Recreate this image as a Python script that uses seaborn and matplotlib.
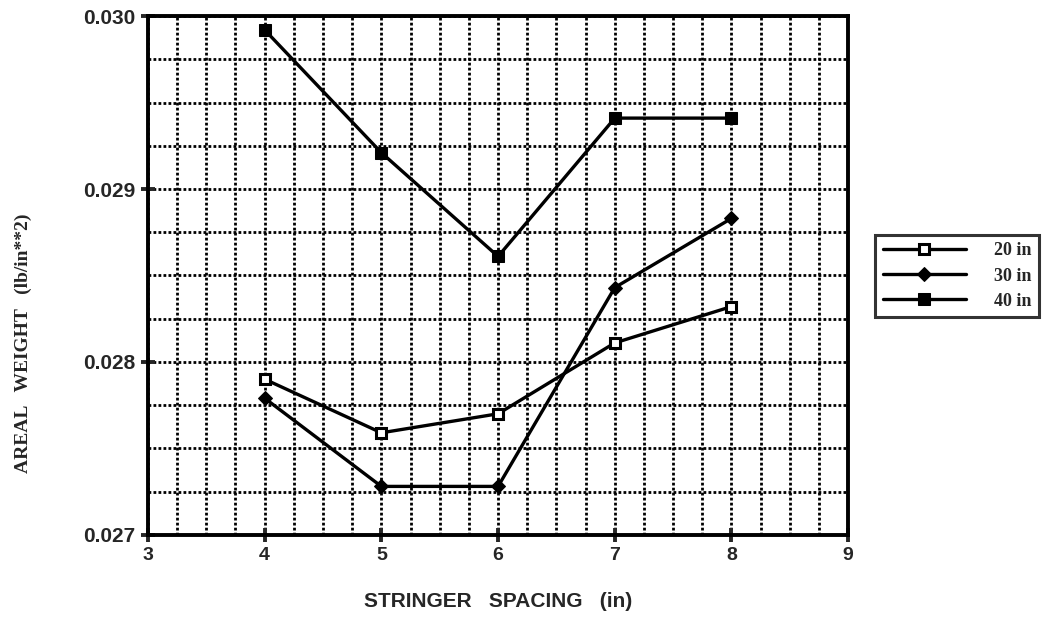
import numpy as np
import pandas as pd
import matplotlib
matplotlib.use('Agg')
import matplotlib.pyplot as plt
import seaborn as sns
from matplotlib.ticker import MultipleLocator

spacing = [4, 5, 6, 7, 8]
w_20in = [0.02790, 0.02759, 0.02770, 0.02811, 0.02832]
w_30in = [0.02779, 0.02728, 0.02728, 0.02843, 0.02883]
w_40in = [0.02992, 0.02921, 0.02861, 0.02941, 0.02941]
series = ['20 in', '30 in', '40 in']

df = pd.DataFrame({
    'spacing': spacing * 3,
    'weight': w_20in + w_30in + w_40in,
    'panel': np.repeat(series, len(spacing)),
})

sns.set_style('white')
plt.rcParams['font.family'] = ['Liberation Sans', 'DejaVu Sans']

fig = plt.figure(figsize=(10.42, 6.19), dpi=100)
ax = fig.add_axes([0.142, 0.136, 0.672, 0.838])

sns.lineplot(data=df, x='spacing', y='weight', hue='panel', style='panel',
             palette=['black'] * 3, markers={'20 in': 's', '30 in': 'D', '40 in': 's'},
             dashes=False, linewidth=2.4, markersize=8, ax=ax, legend=False)

for ln in ax.lines[:3]:
    ln.set_markeredgecolor('black')
# open marker for the 20 in series
ax.lines[0].set_markerfacecolor('white')
ax.lines[0].set_markeredgewidth(2.2)
ax.lines[0].set_markersize(7)
ax.lines[1].set_markersize(7)

ax.set_xlim(3, 9)
ax.set_ylim(0.027, 0.030)
ax.xaxis.set_major_locator(MultipleLocator(1))
ax.xaxis.set_minor_locator(MultipleLocator(0.25))
ax.yaxis.set_major_locator(MultipleLocator(0.001))
ax.yaxis.set_minor_locator(MultipleLocator(0.00025))
ax.yaxis.set_major_formatter(plt.FormatStrFormatter('%.3f'))

ax.grid(True, which='both', color='black', linestyle=(0, (1, 0.8)), linewidth=2.0)
ax.set_axisbelow(True)
for sp in ax.spines.values():
    sp.set_linewidth(2.8)
    sp.set_color('black')

ax.tick_params(axis='both', which='major', direction='inout', length=10, width=2.8,
               labelsize=14, pad=4, bottom=True, left=True)
ax.tick_params(axis='y', which='major', labelsize=15)
ax.tick_params(axis='both', which='minor', length=0)
for lab in ax.get_xticklabels() + ax.get_yticklabels():
    lab.set_fontweight('bold')

ax.set_xlabel('STRINGER   SPACING   (in)', fontsize=15, fontweight='bold')
ax.xaxis.set_label_coords(0.5, -0.11)
ax.set_ylabel('AREAL   WEIGHT   (lb/in**2)', fontsize=14, fontweight='bold',
              family=['Liberation Serif', 'DejaVu Serif'])
ax.yaxis.set_label_coords(-0.165, 0.37)

handles = ax.lines[:3]
leg = fig.legend(handles, series, loc='upper left', bbox_to_anchor=(0.84, 0.62),
                 frameon=True, fancybox=False, edgecolor='black', handlelength=4.6,
                 handletextpad=1.6, borderpad=0.4, labelspacing=0.45, borderaxespad=0,
                 prop={'family': ['Liberation Serif', 'DejaVu Serif'], 'weight': 'bold', 'size': 13})
leg.get_frame().set_linewidth(2.2)

fig.savefig('out.png', dpi=100)
